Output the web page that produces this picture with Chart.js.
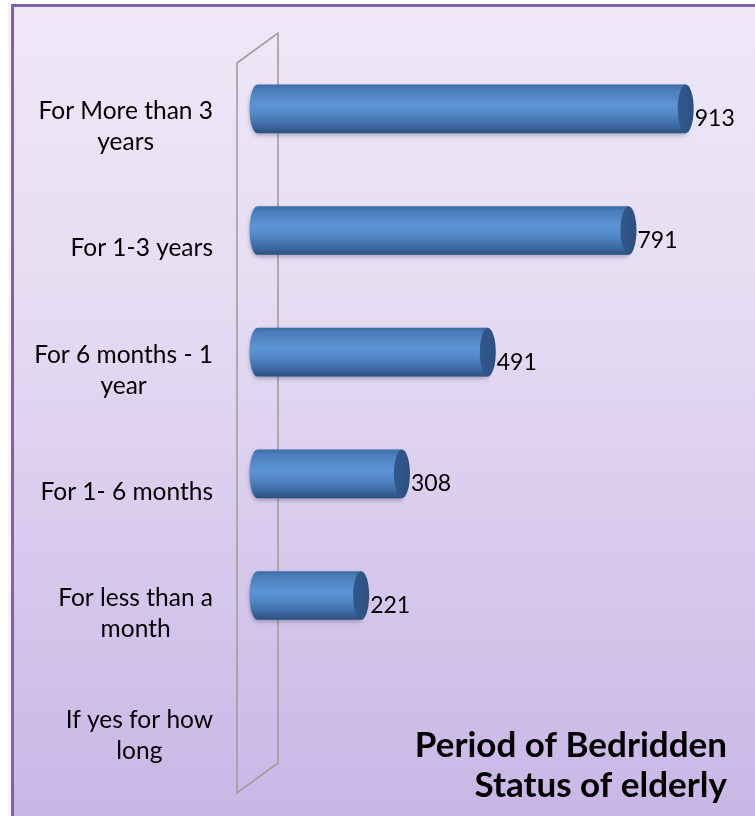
<!DOCTYPE html>
<html>
<head>
<meta charset="utf-8">
<title>Period of Bedridden Status of elderly</title>
<script src="https://cdn.jsdelivr.net/npm/chart.js@4/dist/chart.umd.min.js"></script>
<style>
  html, body { margin: 0; padding: 0; background: #ffffff; }
  #wrap { width: 755px; height: 816px; }
</style>
</head>
<body>
<div id="wrap"><canvas id="chart" width="755" height="816"></canvas></div>
<script>
// Category labels (top to bottom), split into the lines they wrap to
const categories = [
  ["For More than 3", "years"],
  ["For 1-3 years"],
  ["For 6 months - 1", "year"],
  ["For 1- 6 months"],
  ["For less than a", "month"],
  ["If yes for how", "long"]
];
// Number of elderly in each bedridden period (header row has no bar)
const counts = [913, 791, 491, 308, 221, null];
// Value axis range
const axisMin = 0;
const axisMax = 1000;
// Chart title lines
const titleLines = ["Period of Bedridden", "Status of elderly"];

// 3D depth of the wall / floor and where the bars sit inside it
const DEPTH_X = 41, DEPTH_Y = -30;
const BAR_DX = DEPTH_X / 2, BAR_DY = DEPTH_Y / 2;

const backdrop = {
  id: 'backdrop',
  beforeDraw(chart) {
    const ctx = chart.ctx;
    const W = chart.width, H = chart.height;
    ctx.save();
    ctx.fillStyle = '#ffffff';
    ctx.fillRect(0, 0, W, H);
    // soft shadow of the frame
    ctx.fillStyle = 'rgba(120,110,140,0.07)';
    ctx.fillRect(8, 2, 3, H);
    const g = ctx.createLinearGradient(0, 4, 0, H);
    g.addColorStop(0, '#EEE8F7');
    g.addColorStop(0.35, '#E6DDF3');
    g.addColorStop(1, '#C9B6E6');
    ctx.fillStyle = g;
    ctx.fillRect(11, 4, W - 11, H - 4);
    // frame
    ctx.strokeStyle = '#7E62B2';
    ctx.lineWidth = 3;
    ctx.beginPath();
    ctx.moveTo(12.5, H);
    ctx.lineTo(12.5, 5.5);
    ctx.lineTo(W, 5.5);
    ctx.stroke();
    ctx.restore();
  }
};

const wall = {
  id: 'wall',
  beforeDatasetsDraw(chart) {
    const { left: L, top: T, bottom: B } = chart.chartArea;
    const ctx = chart.ctx;
    ctx.save();
    ctx.strokeStyle = '#9E9E9E';
    ctx.lineWidth = 1.6;
    ctx.beginPath();
    ctx.moveTo(L, T);
    ctx.lineTo(L, B);
    ctx.lineTo(L + DEPTH_X, B + DEPTH_Y);
    ctx.lineTo(L + DEPTH_X, T + DEPTH_Y);
    ctx.closePath();
    ctx.stroke();
    ctx.restore();
  }
};

const cylinders = {
  id: 'cylinders',
  afterDatasetsDraw(chart) {
    const ctx = chart.ctx;
    const meta = chart.getDatasetMeta(0);
    const values = chart.data.datasets[0].data;
    meta.data.forEach((el, i) => {
      if (values[i] === null || values[i] === undefined) return;
      const p = el.getProps(['x', 'y', 'base', 'height'], true);
      const x0 = p.base + BAR_DX, x1 = p.x + BAR_DX;
      const cy = p.y + BAR_DY, h = p.height, ry = h / 2, rx = 8;
      const top = cy - ry, bot = cy + ry;

      ctx.save();
      const g = ctx.createLinearGradient(0, top, 0, bot);
      g.addColorStop(0, '#3D6BA4');
      g.addColorStop(0.1, '#4A7DBB');
      g.addColorStop(0.42, '#5C94D5');
      g.addColorStop(0.6, '#5288C8');
      g.addColorStop(0.85, '#3D69A2');
      g.addColorStop(1, '#2B4E7E');
      ctx.shadowColor = 'rgba(40,40,70,0.35)';
      ctx.shadowBlur = 4;
      ctx.shadowOffsetY = 2;
      ctx.fillStyle = g;
      ctx.beginPath();
      ctx.moveTo(x0, top);
      ctx.lineTo(x1, top);
      ctx.lineTo(x1, bot);
      ctx.lineTo(x0, bot);
      ctx.ellipse(x0, cy, rx, ry, 0, Math.PI / 2, Math.PI * 1.5);
      ctx.closePath();
      ctx.fill();
      ctx.restore();

      // end cap
      ctx.save();
      const cg = ctx.createLinearGradient(x1 - rx, 0, x1 + rx, 0);
      cg.addColorStop(0, '#32598C');
      cg.addColorStop(1, '#2C5080');
      ctx.fillStyle = cg;
      ctx.beginPath();
      ctx.ellipse(x1, cy, rx, ry, 0, 0, Math.PI * 2);
      ctx.fill();
      ctx.restore();

      // value label
      ctx.save();
      ctx.fillStyle = '#000000';
      ctx.font = '23px Lato, "Open Sans", sans-serif';
      ctx.textAlign = 'left';
      ctx.textBaseline = 'middle';
      ctx.fillText(String(values[i]), x1 + rx + 1, cy + 10);
      ctx.restore();
    });
  }
};

const categoryLabels = {
  id: 'categoryLabels',
  afterDraw(chart) {
    const ctx = chart.ctx;
    const yScale = chart.scales.y;
    const right = chart.chartArea.left - 24;
    const lineH = 31;
    ctx.save();
    ctx.fillStyle = '#000000';
    ctx.font = '24.5px Lato, "Open Sans", sans-serif';
    ctx.textAlign = 'center';
    ctx.textBaseline = 'middle';
    chart.data.labels.forEach((lines, i) => {
      const yc = yScale.getPixelForValue(i) + 3;
      const w = Math.max(...lines.map(s => ctx.measureText(s).width));
      const xc = right - w / 2;
      lines.forEach((s, k) => {
        const y = yc + (k - (lines.length - 1) / 2) * lineH;
        ctx.fillText(s, xc, y);
      });
    });
    ctx.restore();
  }
};

const cornerTitle = {
  id: 'cornerTitle',
  afterDraw(chart) {
    const ctx = chart.ctx;
    ctx.save();
    ctx.fillStyle = '#000000';
    ctx.font = 'bold 35px Lato, "Open Sans", sans-serif';
    ctx.textAlign = 'right';
    ctx.textBaseline = 'alphabetic';
    ctx.fillText(titleLines[0], 727, 757);
    ctx.fillText(titleLines[1], 727, 797);
    ctx.restore();
  }
};

new Chart(document.getElementById('chart'), {
  type: 'bar',
  data: {
    labels: categories,
    datasets: [{
      label: 'Elderly',
      data: counts,
      backgroundColor: 'rgba(0,0,0,0)',
      borderWidth: 0,
      categoryPercentage: 1,
      barPercentage: 0.4
    }]
  },
  options: {
    indexAxis: 'y',
    responsive: false,
    animation: false,
    devicePixelRatio: 1,
    layout: { padding: { left: 237, top: 63, right: 49, bottom: 23 } },
    scales: {
      x: { display: false, min: axisMin, max: axisMax },
      y: { display: false }
    },
    plugins: {
      legend: { display: false },
      tooltip: { enabled: false },
      title: { display: false }
    }
  },
  plugins: [backdrop, wall, cylinders, categoryLabels, cornerTitle]
});
</script>
</body>
</html>
